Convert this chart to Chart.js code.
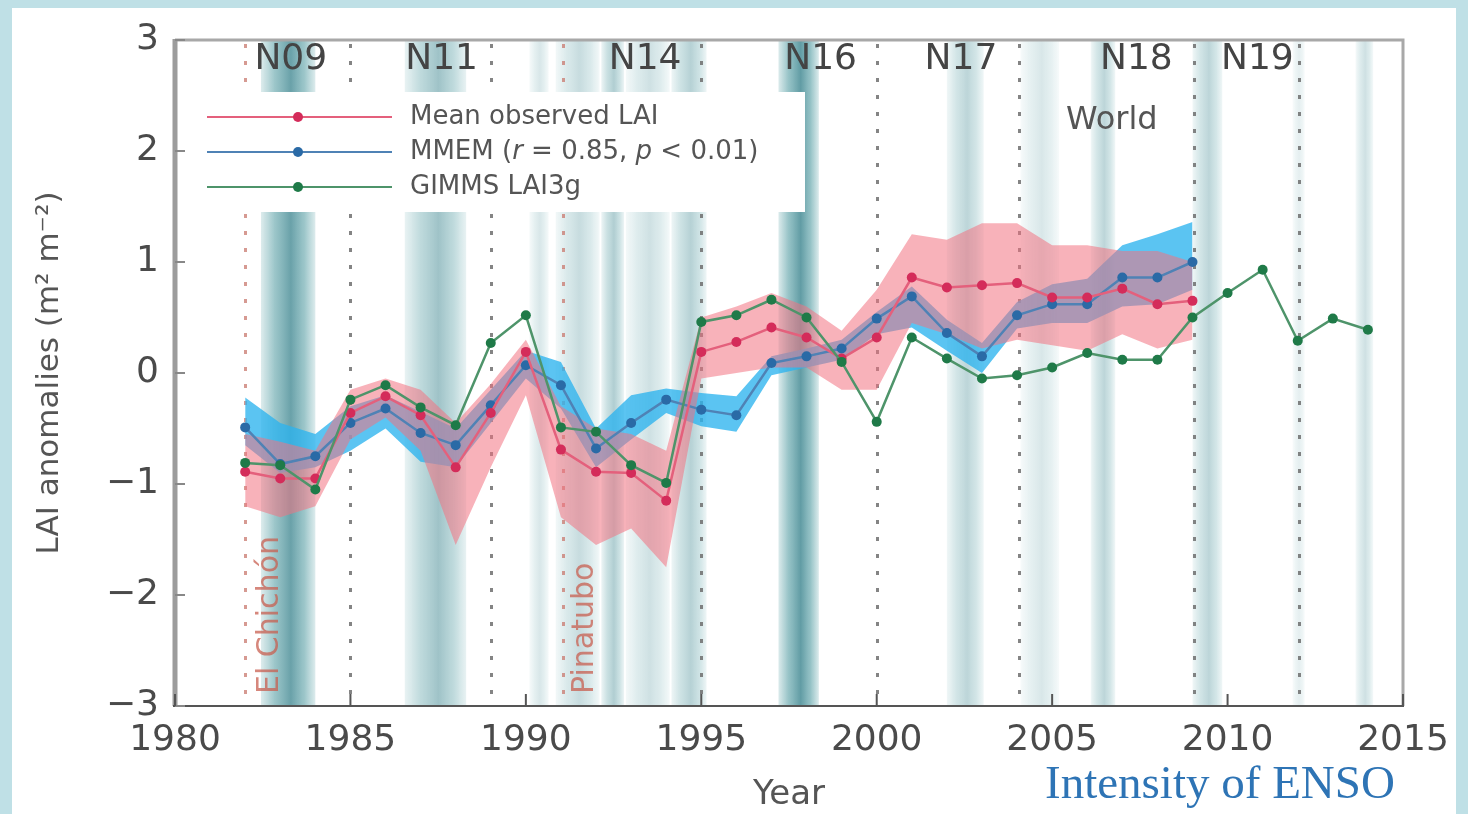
<!DOCTYPE html>
<html>
<head>
<meta charset="utf-8">
<script src="https://cdn.jsdelivr.net/npm/chart.js@4.4.0/dist/chart.umd.min.js"></script>
<style>
  html, body { margin: 0; padding: 0; width: 1468px; height: 814px; overflow: hidden; background: #bfe0e6; }
  #painel { position: absolute; left: 12px; top: 8px; width: 1444px; height: 806px; background: #fff; }
  #grafico { position: absolute; left: 0; top: 0; }
</style>
</head>
<body>
<div id="painel"></div>
<canvas id="grafico" width="1468" height="814"></canvas>
<script>
// Anos das séries
const anosModelo = [1982, 1983, 1984, 1985, 1986, 1987, 1988, 1989, 1990, 1991, 1992, 1993, 1994, 1995,
                    1996, 1997, 1998, 1999, 2000, 2001, 2002, 2003, 2004, 2005, 2006, 2007, 2008, 2009];
const anosGimms = [1982, 1983, 1984, 1985, 1986, 1987, 1988, 1989, 1990, 1991, 1992, 1993, 1994, 1995,
                   1996, 1997, 1998, 1999, 2000, 2001, 2002, 2003, 2004, 2005, 2006, 2007, 2008, 2009,
                   2010, 2011, 2012, 2013, 2014];

// Mean observed LAI + faixa
const laiObservado = [-0.89, -0.95, -0.95, -0.36, -0.21, -0.38, -0.85, -0.36, 0.19, -0.69, -0.89, -0.90, -1.15, 0.19,
                      0.28, 0.41, 0.32, 0.13, 0.32, 0.86, 0.77, 0.79, 0.81, 0.68, 0.68, 0.76, 0.62, 0.65];
const obsSuperior = [-0.55, -0.62, -0.70, -0.15, -0.05, -0.15, -0.45, -0.10, 0.30, -0.30, -0.50, -0.55, -0.70, 0.50,
                     0.60, 0.72, 0.60, 0.38, 0.75, 1.25, 1.20, 1.35, 1.35, 1.15, 1.15, 1.10, 1.10, 1.00];
const obsInferior = [-1.20, -1.30, -1.20, -0.60, -0.40, -0.70, -1.55, -0.85, -0.20, -1.30, -1.55, -1.40, -1.75, -0.05,
                     0.00, 0.05, 0.05, -0.15, -0.15, 0.45, 0.35, 0.22, 0.30, 0.25, 0.20, 0.35, 0.22, 0.30];

// MMEM + faixa
const laiMmem = [-0.49, -0.82, -0.75, -0.45, -0.32, -0.54, -0.65, -0.29, 0.07, -0.11, -0.68, -0.45, -0.24, -0.33,
                 -0.38, 0.09, 0.15, 0.22, 0.49, 0.69, 0.36, 0.15, 0.52, 0.62, 0.62, 0.86, 0.86, 1.00];
const mmemSuperior = [-0.22, -0.45, -0.55, -0.30, -0.20, -0.35, -0.50, -0.15, 0.20, 0.10, -0.50, -0.20, -0.14, -0.18,
                      -0.21, 0.15, 0.22, 0.30, 0.55, 0.78, 0.48, 0.27, 0.64, 0.80, 0.85, 1.15, 1.25, 1.36];
const mmemInferior = [-0.65, -0.90, -0.85, -0.70, -0.50, -0.80, -0.85, -0.45, -0.05, -0.32, -0.85, -0.60, -0.36, -0.48,
                      -0.53, -0.02, 0.05, 0.12, 0.35, 0.41, 0.20, 0.00, 0.40, 0.45, 0.45, 0.60, 0.62, 0.75];

// GIMMS LAI3g
const laiGimms = [-0.81, -0.83, -1.05, -0.24, -0.11, -0.31, -0.47, 0.27, 0.52, -0.49, -0.53, -0.83, -0.99, 0.46,
                  0.52, 0.66, 0.50, 0.10, -0.44, 0.32, 0.13, -0.05, -0.02, 0.05, 0.18, 0.12, 0.12, 0.50,
                  0.72, 0.93, 0.29, 0.49, 0.39];

// Intensidade do ENSO (faixas de fundo)
const ensoInicio = [1982.45, 1986.55, 1990.10, 1990.85, 1992.15, 1992.85, 1994.15, 1997.20, 2002.00, 2004.10, 2006.10, 2009.00, 2011.85, 2013.65];
const ensoFim    = [1984.00, 1988.30, 1990.65, 1992.10, 1992.80, 1994.10, 1995.15, 1998.35, 2003.05, 2005.20, 2006.80, 2009.85, 2012.20, 2014.15];
const ensoForca  = [0.85, 0.55, 0.22, 0.32, 0.45, 0.28, 0.42, 0.90, 0.38, 0.22, 0.38, 0.38, 0.15, 0.28];

// Troca de satélites (linhas pontilhadas) e rótulos
const trocaSatelite = [1985, 1989, 1995, 2000, 2004.05, 2009.05, 2012.05];
const satelites = ['N09', 'N11', 'N14', 'N16', 'N17', 'N18', 'N19'];
const posSatelite = [1983.3, 1987.6, 1993.4, 1998.4, 2002.4, 2007.4, 2010.85];

// Vulcões
const vulcoes = ['El Chichón', 'Pinatubo'];
const anoVulcao = [1982.0, 1991.05];
const posNomeVulcao = [1982.7, 1991.7];

const FONTE = '"DejaVu Sans", sans-serif';

function pontos(anos, valores) {
    return anos.map((a, i) => ({ x: a, y: valores[i] }));
}

function linhaSerie(rotulo, anos, valores, corLinha, corPonto, ordem) {
    return {
        label: rotulo,
        data: pontos(anos, valores),
        borderColor: corLinha,
        borderWidth: 2.5,
        pointRadius: 5,
        pointBackgroundColor: corPonto,
        pointBorderWidth: 0,
        tension: 0,
        fill: false,
        order: ordem
    };
}

function faixa(anos, valores, cor, preencher, ordem) {
    return {
        data: pontos(anos, valores),
        borderWidth: 0,
        pointRadius: 0,
        backgroundColor: cor,
        fill: preencher ? '+1' : false,
        tension: 0,
        order: ordem
    };
}

const fundoPlugin = {
    id: 'fundo',
    beforeDatasetsDraw(chart) {
        const { ctx, chartArea: a, scales: { x } } = chart;
        ctx.save();
        ctx.beginPath();
        ctx.rect(a.left, a.top, a.right - a.left, a.bottom - a.top);
        ctx.clip();

        // faixas ENSO
        ensoInicio.forEach((ini, i) => {
            const x0 = x.getPixelForValue(ini);
            const x1 = x.getPixelForValue(ensoFim[i]);
            const k = ensoForca[i];
            const g = ctx.createLinearGradient(x0, 0, x1, 0);
            g.addColorStop(0, `rgba(95,165,170,${k * 0.25})`);
            g.addColorStop(0.25, `rgba(90,160,166,${k * 0.7})`);
            g.addColorStop(0.55, `rgba(80,145,154,${k})`);
            g.addColorStop(0.8, `rgba(90,160,166,${k * 0.7})`);
            g.addColorStop(1, `rgba(95,165,170,${k * 0.25})`);
            ctx.fillStyle = g;
            ctx.fillRect(x0, a.top, x1 - x0, a.bottom - a.top);
        });

        // linhas pontilhadas
        ctx.lineWidth = 3;
        ctx.setLineDash([4, 13]);
        const pontilhado = (ano, cor) => {
            const px = Math.round(x.getPixelForValue(ano)) + 0.5;
            ctx.strokeStyle = cor;
            ctx.beginPath();
            ctx.moveTo(px, a.top + 4);
            ctx.lineTo(px, a.bottom);
            ctx.stroke();
        };
        trocaSatelite.forEach(ano => pontilhado(ano, 'rgba(110,110,110,0.85)'));
        anoVulcao.forEach(ano => pontilhado(ano, 'rgba(200,120,110,0.75)'));
        ctx.setLineDash([]);

        // nomes dos vulcões
        ctx.font = '30px ' + FONTE;
        ctx.fillStyle = 'rgba(200,95,80,0.75)';
        ctx.textAlign = 'left';
        ctx.textBaseline = 'middle';
        vulcoes.forEach((nome, i) => {
            ctx.save();
            ctx.translate(x.getPixelForValue(posNomeVulcao[i]), a.bottom - 12);
            ctx.rotate(-Math.PI / 2);
            ctx.fillText(nome, 0, 0);
            ctx.restore();
        });
        ctx.restore();
    },
    afterDatasetsDraw(chart) {
        const { ctx, chartArea: a, scales: { x, y } } = chart;
        ctx.save();

        // caixa da legenda
        ctx.fillStyle = '#fff';
        ctx.fillRect(a.left + 3, 92, 805 - a.left - 3, 120);
        const itens = [
            { cl: '#e4607c', cp: '#d42c5a', y: 117 },
            { cl: '#4f82b5', cp: '#2a6aa6', y: 152 },
            { cl: '#4e946a', cp: '#1f7a48', y: 187 }
        ];
        itens.forEach(it => {
            ctx.strokeStyle = it.cl;
            ctx.lineWidth = 2;
            ctx.beginPath();
            ctx.moveTo(207, it.y);
            ctx.lineTo(392, it.y);
            ctx.stroke();
            ctx.fillStyle = it.cp;
            ctx.beginPath();
            ctx.arc(298, it.y, 5, 0, Math.PI * 2);
            ctx.fill();
        });
        ctx.fillStyle = '#555';
        ctx.textBaseline = 'middle';
        ctx.textAlign = 'left';
        ctx.font = '26px ' + FONTE;
        ctx.fillText('Mean observed LAI', 410, 117);
        ctx.fillText('GIMMS LAI3g', 410, 187);
        const partes = [['MMEM (', false], ['r', true], [' = 0.85, ', false], ['p', true], [' < 0.01)', false]];
        let px = 410;
        partes.forEach(([t, it]) => {
            ctx.font = (it ? 'italic ' : '') + '26px ' + FONTE;
            ctx.fillText(t, px, 152);
            px += ctx.measureText(t).width;
        });

        // rótulos dos satélites
        ctx.font = '36px ' + FONTE;
        ctx.fillStyle = '#444';
        ctx.textAlign = 'center';
        satelites.forEach((s, i) => ctx.fillText(s, x.getPixelForValue(posSatelite[i]), 60));

        ctx.font = '32px ' + FONTE;
        ctx.fillStyle = '#555';
        ctx.fillText('World', x.getPixelForValue(2006.7), 121);

        // moldura
        ctx.lineWidth = 3;
        ctx.strokeStyle = '#a8a8a8';
        ctx.beginPath();
        ctx.moveTo(a.left, a.top);
        ctx.lineTo(a.right, a.top);
        ctx.lineTo(a.right, a.bottom);
        ctx.stroke();
        ctx.lineWidth = 5;
        ctx.strokeStyle = '#9c9c9c';
        ctx.beginPath();
        ctx.moveTo(a.left, a.top - 1);
        ctx.lineTo(a.left, a.bottom);
        ctx.stroke();
        ctx.lineWidth = 2;
        ctx.strokeStyle = '#555';
        ctx.beginPath();
        ctx.moveTo(a.left - 2, a.bottom);
        ctx.lineTo(a.right + 1, a.bottom);
        ctx.stroke();

        // marcas internas
        ctx.lineWidth = 2;
        ctx.strokeStyle = '#888';
        y.ticks.forEach(t => {
            const py = y.getPixelForValue(t.value);
            ctx.beginPath();
            ctx.moveTo(a.left, py);
            ctx.lineTo(a.left + 10, py);
            ctx.stroke();
        });
        ctx.strokeStyle = '#555';
        x.ticks.forEach(t => {
            const pxT = x.getPixelForValue(t.value);
            ctx.beginPath();
            ctx.moveTo(pxT, a.bottom);
            ctx.lineTo(pxT, a.bottom - 12);
            ctx.stroke();
        });

        // títulos dos eixos
        ctx.fillStyle = '#555';
        ctx.font = '34px ' + FONTE;
        ctx.textAlign = 'center';
        ctx.fillText('Year', (a.left + a.right) / 2, 795);
        ctx.save();
        ctx.translate(50, (a.top + a.bottom) / 2);
        ctx.rotate(-Math.PI / 2);
        ctx.font = '31px ' + FONTE;
        ctx.fillText('LAI anomalies (m² m⁻²)', 0, 0);
        ctx.restore();

        // texto ENSO
        ctx.fillStyle = '#2e74b5';
        ctx.font = '47px "Liberation Serif", serif';
        ctx.textAlign = 'left';
        ctx.textBaseline = 'alphabetic';
        ctx.fillText('Intensity of ENSO', 1045, 798);
        ctx.restore();
    }
};

new Chart(document.getElementById('grafico'), {
    type: 'line',
    data: {
        datasets: [
            linhaSerie('GIMMS LAI3g', anosGimms, laiGimms, '#4e946a', '#1f7a48', 0),
            linhaSerie('Mean observed LAI', anosModelo, laiObservado, '#e4607c', '#d42c5a', 1),
            linhaSerie('MMEM', anosModelo, laiMmem, '#4f82b5', '#2a6aa6', 2),
            faixa(anosModelo, obsSuperior, 'rgba(242,115,130,0.55)', true, 5),
            faixa(anosModelo, obsInferior, 'rgba(242,115,130,0.55)', false, 5),
            faixa(anosModelo, mmemSuperior, 'rgba(45,180,238,0.78)', true, 6),
            faixa(anosModelo, mmemInferior, 'rgba(45,180,238,0.78)', false, 6)
        ]
    },
    options: {
        responsive: false,
        animation: false,
        devicePixelRatio: 1,
        layout: { padding: { left: 0, top: 40, right: 65, bottom: 0 } },
        plugins: {
            legend: { display: false },
            tooltip: { enabled: false }
        },
        scales: {
            x: {
                type: 'linear',
                min: 1980,
                max: 2015,
                grid: { display: false, drawTicks: false },
                border: { display: false },
                ticks: {
                    stepSize: 5,
                    maxRotation: 0,
                    padding: 13,
                    color: '#4a4a4a',
                    font: { family: FONTE, size: 36 },
                    callback: v => String(v)
                },
                afterFit: s => { s.height = 108; }
            },
            y: {
                min: -3,
                max: 3,
                grid: { display: false, drawTicks: false },
                border: { display: false },
                ticks: {
                    stepSize: 1,
                    padding: 16,
                    color: '#4a4a4a',
                    font: { family: FONTE, size: 36 },
                    callback: v => v < 0 ? '−' + Math.abs(v) : String(v)
                },
                afterFit: s => { s.width = 175; }
            }
        }
    },
    plugins: [fundoPlugin]
});
</script>
</body>
</html>
